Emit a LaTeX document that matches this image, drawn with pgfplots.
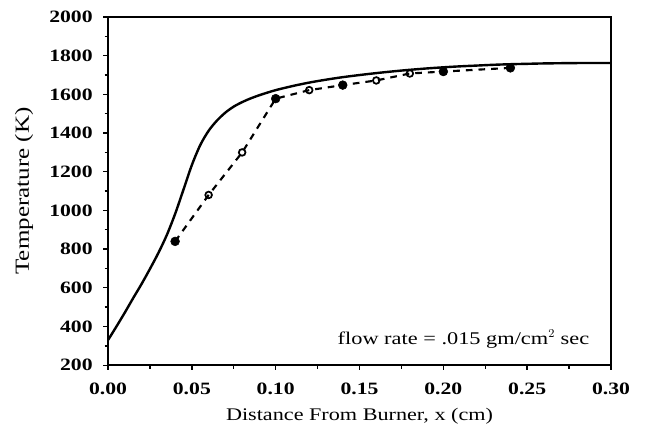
\documentclass[border=0pt]{standalone}
\usepackage{pgfplots}
\pgfplotsset{compat=1.18}
\usetikzlibrary{calc}
\usepackage{fontspec}
\setmainfont{Liberation Serif}[FakeStretch=1.25]
\begin{document}
\begin{tikzpicture}
\begin{axis}[
  name=ax,
  scale only axis,
  width=377pt, height=261pt,
  xmin=0, xmax=0.3, ymin=200, ymax=2000,
  xtick={0,0.05,...,0.3},
  ytick={200,400,...,2000},
  minor x tick num=1,
  minor y tick num=1,
  xticklabel style={/pgf/number format/fixed, /pgf/number format/fixed zerofill, /pgf/number format/precision=2, yshift=-6.5pt},
  yticklabel style={/pgf/number format/fixed, /pgf/number format/1000 sep={}, xshift=-4.5pt},
  /pgf/number format/assume math mode=true,
  ticklabel style={font=\fontsize{13}{14}\selectfont\bfseries},
  tick align=outside,
  major tick length=3.5pt,
  minor tick length=2.5pt,
  tick style={line width=1pt, black},
  xtick pos=bottom, ytick pos=left,
  axis line style={line width=1.2pt},
  xlabel={Distance From Burner, x (cm)},
  ylabel={Temperature (K)},
  xlabel style={font=\fontsize{13.3}{14}\selectfont, at={(axis description cs:0.5,-0.158)}, anchor=base},
  ylabel style={font=\fontsize{15}{16}\selectfont, at={(axis description cs:-0.167,0.5)}, anchor=center},
  clip=false,
]
\addplot[black, line width=1.8pt, smooth] coordinates {
(0,330) (0.005,400) (0.010,472) (0.015,547) (0.020,620) (0.025,698)
(0.030,780) (0.035,872) (0.040,982) (0.045,1108) (0.050,1235)
(0.055,1338) (0.060,1412) (0.065,1465) (0.070,1506) (0.075,1537)
(0.080,1560) (0.085,1579) (0.090,1595) (0.095,1609) (0.100,1622)
(0.110,1643) (0.120,1661) (0.130,1676) (0.140,1689) (0.150,1700)
(0.160,1710) (0.170,1719) (0.180,1727) (0.190,1734) (0.200,1740)
(0.210,1745) (0.220,1749) (0.230,1753) (0.240,1756) (0.250,1758)
(0.260,1760) (0.280,1762) (0.300,1762)
};
\addplot[black, line width=1.6pt, dash pattern=on 5pt off 4.5pt] coordinates {
(0.04,840) (0.06,1080) (0.08,1300) (0.10,1578) (0.12,1622)
(0.14,1648) (0.16,1672) (0.18,1708) (0.20,1718) (0.24,1737)
};
\addplot[only marks, mark=*, mark size=3.3pt, black] coordinates {
(0.04,840) (0.10,1578) (0.14,1648) (0.20,1718) (0.24,1737)
};
\addplot[only marks, mark=o, mark size=2.5pt, black, line width=1.3pt, mark options={fill=white}] coordinates {
(0.06,1080) (0.08,1300) (0.12,1622) (0.16,1672) (0.18,1708)
};
\node[anchor=center, font=\fontsize{13.4}{14}\selectfont] at (axis cs:0.212,335) {flow rate = .015 gm/cm$^{2}$ sec};
\end{axis}
\path ($(ax.south west)+(-81pt,-48pt)$) rectangle ($(ax.north east)+(28.5pt,12.75pt)$);
\end{tikzpicture}
\end{document}
